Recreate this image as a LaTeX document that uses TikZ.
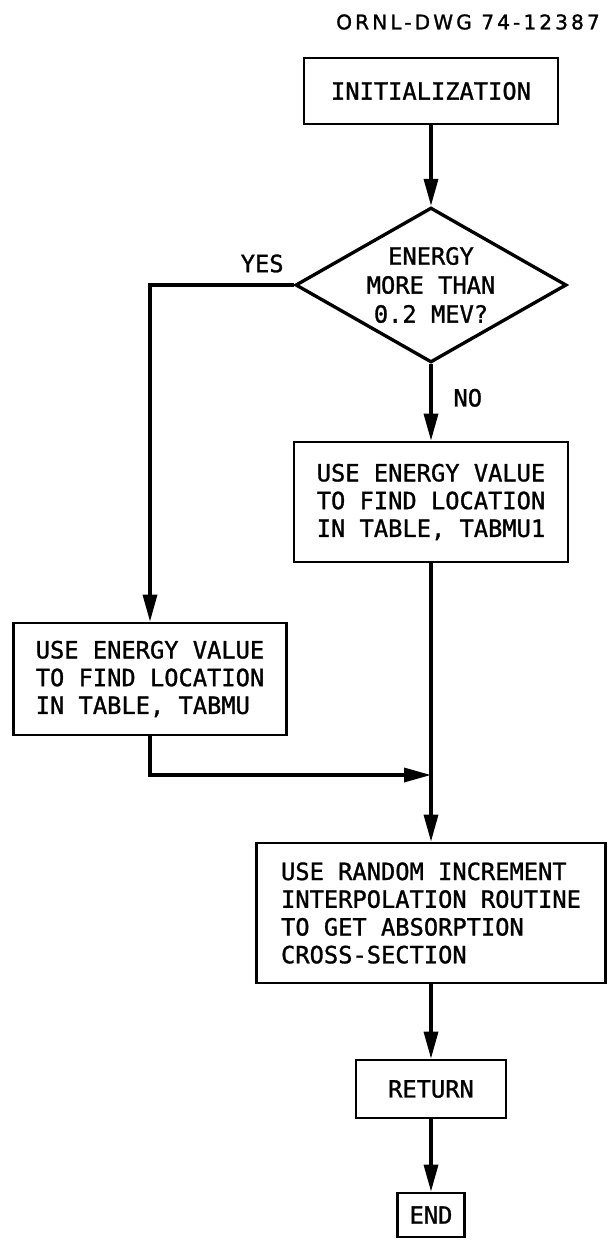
\documentclass[tikz,border=0pt]{standalone}
\usepackage{fontspec}
\usepackage{tikz}
\usetikzlibrary{shapes.geometric,arrows.meta}
\setmainfont{DejaVu Sans Mono}[FakeBold=1.2]
\newfontfamily\dwgfont{DejaVu Sans}[LetterSpace=15, FakeBold=1.2]

\begin{document}
\begin{tikzpicture}[x=0.02cm, y=-0.02cm]
        % Define styles
        \tikzset{
            process/.style={rectangle, draw, line width=1.5pt, align=left, font=\fontsize{13.5}{15.8}\selectfont},
            decision/.style={diamond, draw, line width=1.9pt, aspect=1.75, inner sep=1pt, minimum width=5.02cm, minimum height=2.86cm, align=center, font=\fontsize{13.5}{16.5}\selectfont},
            tag/.style={font=\fontsize{13.5}{16}\selectfont},
            arrow/.style={-{Triangle[length=5.4mm, width=2.8mm]}, line width=1.9pt}
        }
        \useasboundingbox (0,0) rectangle (610,1241);

        % Nodes
        \node[font=\dwgfont\fontsize{11.5}{13}\selectfont] (dwg_label) at (468,22) {ORNL-DWG 74-12387};
        \node[process, minimum width=5.08cm, minimum height=1.32cm] (init_node) at (431,91) {INITIALIZATION};
        \node[decision] (test_node) at (431,285) {ENERGY\\MORE THAN\\0.2 MEV?};
        \node[process, minimum width=5.48cm, minimum height=2.4cm] (tabmu1_node) at (431,502) {USE ENERGY VALUE\\TO FIND LOCATION\\IN TABLE, TABMU1};
        \node[process, minimum width=5.46cm, minimum height=2.24cm] (tabmu_node) at (150,679) {USE ENERGY VALUE\\TO FIND LOCATION\\IN TABLE, TABMU};
        \coordinate (merge_point) at (431,775);
        \node[process, minimum width=6.98cm, minimum height=2.8cm] (random_node) at (431,913) {USE RANDOM INCREMENT\\INTERPOLATION ROUTINE\\TO GET ABSORPTION\\CROSS-SECTION};
        \node[process, minimum width=3.0cm, minimum height=1.16cm] (return_node) at (431,1089) {RETURN};
        \node[process, minimum width=1.34cm, minimum height=0.88cm] (end_node) at (431,1215) {END};

        % Arrows
        \draw[arrow] (init_node) -- (test_node);
        \draw[arrow] (test_node.west) -| (tabmu_node.north) node[pos=0.11, above=1mm, tag] {YES};
        \draw[arrow] (test_node) -- (tabmu1_node) node[pos=0.44, right=3mm, tag] {NO};
        \draw[arrow] (tabmu_node.south) |- (merge_point);
        \draw[arrow] (tabmu1_node) -- (random_node);
        \draw[arrow] (random_node) -- (return_node);
        \draw[arrow] (return_node) -- (end_node);
    \end{tikzpicture}
\end{document}
